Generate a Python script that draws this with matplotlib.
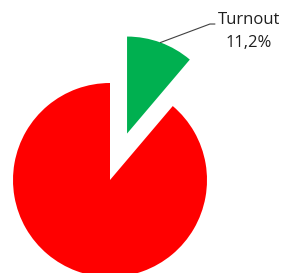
import matplotlib.pyplot as plt
import numpy as np

labels = ["Turnout", "Other"]
values = [11.2, 88.8]
colors = ["#00B050", "#FF0000"]

fig = plt.figure(figsize=(2.83, 2.73), dpi=100)
ax = fig.add_axes([0, 0, 1, 1])

explode = [0.51, 0]
wedges, _ = ax.pie(values, colors=colors, explode=explode, startangle=90,
                   counterclock=False, radius=1.0,
                   wedgeprops=dict(linewidth=0))

ax.set_aspect("equal")
ax.set_xlim(-110 / 97, 173 / 97)
ax.set_ylim(-93 / 97, 180 / 97)
ax.axis("off")

# leader line from middle of green arc to the label
mid = np.deg2rad(90 - values[0] / sum(values) * 180)
cx, cy = explode[0] * np.cos(mid), explode[0] * np.sin(mid)
x0, y0 = cx + np.cos(mid), cy + np.sin(mid)
ax.plot([x0, 1.03, 1.08], [y0, 1.608, 1.608], color="#404040", lw=0.8)

pct = f"{values[0]:.1f}".replace(".", ",") + "%"
ax.text(1.435, 1.65, labels[0], ha="center", va="center",
        fontsize=12, family="Open Sans", color="#202020")
ax.text(1.435, 1.41, pct, ha="center", va="center",
        fontsize=12, family="Open Sans", color="#202020")

fig.savefig("out.png", dpi=100)
